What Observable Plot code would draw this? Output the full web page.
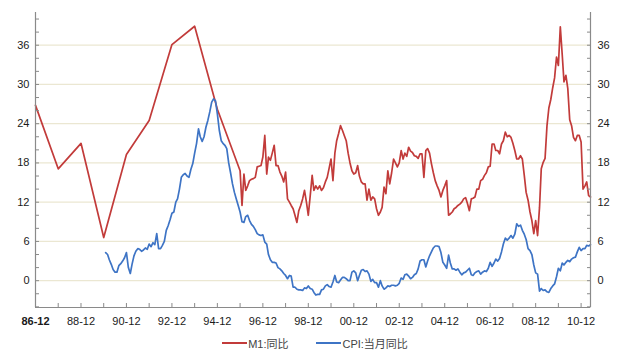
<!DOCTYPE html>
<html><head><meta charset="utf-8">
<script src="https://cdn.jsdelivr.net/npm/d3@7"></script>
<script src="https://cdn.jsdelivr.net/npm/@observablehq/plot@0.6"></script>
<style>
body{margin:0;background:#fff;}
#chart svg{display:block;}
#legend{position:relative;width:630px;height:20px;font-family:"Liberation Sans","Noto Sans CJK SC",sans-serif;font-size:11px;color:#444;display:flex;justify-content:center;align-items:center;}
#legend .item{display:flex;align-items:center;margin:0 14px;}
#legend .sw{display:inline-block;width:25px;height:2px;margin-right:1px;}
#legend .lab{font-family:"Liberation Sans","Noto Sans CJK SC",sans-serif;}
</style></head><body>
<div id="chart"></div>
<div id="legend"></div>
<script>
// ---- data ----
const seriesNames = ["M1:同比", "CPI:当月同比"];
const seriesColors = ["#c23b3a", "#3e74c5"];
// M1 year-end values 1986-12 .. 1995-12
const m1AnnualStart = [1986, 12];
const m1Annual = [26.8, 17.1, 21.0, 6.6, 19.3, 24.5, 36.1, 38.9, 26.2, 16.8];
// M1 monthly 1996-01 .. 2011-05
const m1MonthlyStart = [1996, 1];
const m1Monthly = [
  11.5, 16.3, 13.8, 14.5, 15.3, 15.5, 15.6, 15.8, 17.4, 17.5, 17.6, 18.9,
  22.2, 16.3, 18.9, 18.4, 19.5, 20.7, 17.6, 17.6, 16.6, 16.0, 15.1, 16.6,
  12.5, 12.0, 11.5, 11.0, 10.0, 8.9, 10.7, 11.5, 12.5, 13.8, 12.0, 10.0,
  13.0, 16.1, 13.8, 14.5, 14.0, 14.5, 13.8, 14.2, 15.1, 15.8, 17.2, 18.6,
  15.3, 19.5, 21.4, 22.5, 23.7, 23.0, 22.2, 21.4, 19.5, 18.0, 16.8, 16.3,
  16.5, 17.6, 16.0, 15.1, 14.8, 14.8, 12.3, 14.0, 12.3, 12.8, 12.5, 11.0,
  10.0, 10.5, 11.2, 14.3, 13.3, 16.8, 14.8, 16.5, 18.6, 18.0, 17.4, 18.0,
  19.9, 18.6, 19.5, 19.0, 20.4, 19.8, 19.6, 19.1, 19.0, 18.7, 19.4, 19.4,
  15.8, 19.9, 20.2, 19.5, 17.9, 16.5, 15.3, 14.5, 13.8, 12.8, 13.8, 14.5,
  15.3, 10.0, 10.2, 10.5, 11.0, 11.2, 11.5, 11.7, 12.0, 12.5, 12.7, 11.8,
  10.7, 12.5, 12.6, 12.8, 14.0, 14.0, 15.3, 15.5, 16.1, 16.5, 17.4, 17.5,
  20.9, 20.9, 19.9, 19.9, 19.4, 20.9, 21.4, 22.7, 22.0, 22.2, 21.9, 21.0,
  19.9, 18.6, 18.6, 19.1, 18.6, 16.1, 13.5, 12.3, 10.5, 9.2, 7.2, 9.2,
  6.9, 11.2, 17.1, 18.1, 18.7, 23.7, 26.4, 27.7, 29.5, 31.0, 34.2, 32.9,
  38.8, 34.5, 30.4, 31.4, 29.4, 24.6, 23.7, 21.9, 21.4, 22.2, 22.2, 21.2,
  14.0, 14.5, 15.1, 13.0, 12.8
];
// CPI monthly 1990-01 .. 2011-05
const cpiStart = [1990, 1];
const cpiMonthly = [
  4.3, 4.0, 3.2, 2.5, 1.7, 1.3, 1.3, 2.3, 2.6, 3.0, 3.5, 4.3,
  2.0, 1.1, 2.5, 3.8, 4.5, 4.9, 4.8, 4.5, 4.7, 5.0, 4.8, 5.6,
  5.2, 5.8, 5.5, 7.2, 4.9, 4.9, 5.4, 6.0, 7.7, 8.4, 9.3, 10.3,
  10.5, 12.0, 12.5, 14.0, 15.8, 16.2, 16.4, 16.0, 15.8, 17.0, 17.9, 19.5,
  21.0, 23.2, 22.0, 21.3, 22.0, 23.5, 24.5, 25.8, 27.3, 27.8, 27.5, 25.5,
  23.0, 21.4, 21.0, 20.7, 20.2, 18.0, 16.5, 14.8, 13.5, 12.5, 11.5, 10.5,
  9.0, 8.9, 9.8, 10.0, 9.2, 8.6, 8.3, 7.8, 7.2, 7.0, 6.9, 7.0,
  5.9, 5.6, 4.0, 3.2, 2.8, 2.8, 2.7, 2.0, 1.8, 1.5, 1.1, 0.8,
  0.3, 0.8, 0.7, -1.0, -1.0, -1.3, -1.4, -1.4, -1.5, -1.1, -1.2, -0.8,
  -1.2, -1.3, -1.8, -2.2, -2.1, -2.1, -1.4, -1.3, -0.8, -0.6, -0.9, -1.0,
  -0.2, 0.8, -0.2, -0.3, 0.1, 0.5, 0.5, 0.3, 0.0, 0.0, 1.3, 1.5,
  1.2, 0.0, 0.8, 1.6, 1.7, 1.4, 1.5, 1.0, -0.1, 0.2, -0.3, -0.3,
  -1.0, 0.0, -0.8, -1.3, -1.1, -0.8, -0.9, -0.7, -0.7, -0.8, -0.7, -0.4,
  0.4, 0.2, 0.9, 1.0, 0.7, 0.3, 0.5, 0.9, 1.1, 1.8, 3.0, 3.2,
  3.2, 2.1, 3.0, 3.8, 4.4, 5.0, 5.3, 5.3, 5.2, 4.3, 2.8, 2.4,
  1.9, 3.9, 2.7, 1.8, 1.8, 1.6, 1.8, 1.3, 0.9, 1.2, 1.3, 1.6,
  1.9, 0.9, 0.8, 1.2, 1.4, 1.5, 1.0, 1.3, 1.5, 1.4, 1.9, 2.8,
  2.2, 2.7, 3.3, 3.0, 3.4, 4.4, 5.6, 6.5, 6.2, 6.5, 6.9, 6.5,
  7.1, 8.7, 8.3, 8.5, 7.7, 7.1, 6.3, 4.9, 4.6, 4.0, 2.4, 1.2,
  1.0, -1.6, -1.2, -1.5, -1.4, -1.7, -1.8, -1.2, -0.8, -0.5, 0.6, 1.9,
  1.5, 2.7, 2.4, 2.8, 3.1, 2.9, 3.3, 3.5, 3.6, 4.4, 5.1, 4.6,
  4.9, 4.9, 5.4, 5.3, 5.5
];
const xTickLabels = ["86-12","88-12","90-12","92-12","94-12","96-12","98-12","00-12","02-12","04-12","06-12","08-12","10-12"];
const yTickValues = [0, 6, 12, 18, 24, 30, 36];
const xDomain = [[1986, 12], [2011, 5]];
const yDomain = [-4.1, 41];

// ---- build tables ----
const mdate = (y, m) => new Date(Date.UTC(y, m - 1, 1));
const seq = (start, vals, step) => vals.map((v, i) => ({date: mdate(start[0], start[1] + i * step), value: v}));
const m1Data = [...seq(m1AnnualStart, m1Annual, 12), ...seq(m1MonthlyStart, m1Monthly, 1)];
const cpiData = seq(cpiStart, cpiMonthly, 1);
const xd = xDomain.map(d => mdate(d[0], d[1]));
const labelDates = xTickLabels.map(s => { const yy = +s.slice(0, 2); return mdate(yy > 50 ? 1900 + yy : 2000 + yy, +s.slice(3)); });
const yearTicks = d3.range(0, 25).map(i => mdate(1986 + i, 12));
const yMinor = d3.range(-4, 41, 2);
const labelMap = new Map(labelDates.map((d, i) => [+d, xTickLabels[i]]));

const axisColor = "#8a8a8a";
const textColor = "#1a1a1a";
const chart = Plot.plot({
  width: 630, height: 333,
  marginLeft: 35, marginRight: 40, marginTop: 12, marginBottom: 26,
  style: {fontFamily: "'Liberation Sans', Tahoma, sans-serif", fontSize: "11px", color: textColor, background: "#fff"},
  x: {type: "utc", domain: xd, label: null},
  y: {domain: yDomain, label: null},
  marks: [
    Plot.ruleY(yTickValues, {stroke: "#ebe7d2", strokeWidth: 1.3}),
    Plot.line(m1Data, {x: "date", y: "value", stroke: seriesColors[0], strokeWidth: 1.7}),
    Plot.line(cpiData, {x: "date", y: "value", stroke: seriesColors[1], strokeWidth: 1.7}),
    // axis lines
    Plot.ruleX(xd, {stroke: axisColor, strokeWidth: 1.2}),
    Plot.ruleY([yDomain[0]], {stroke: axisColor, strokeWidth: 1.2}),
    // y ticks
    Plot.axisY(yMinor, {anchor: "left", tickSize: -4, tickFormat: () => "", stroke: axisColor, label: null}),
    Plot.axisY(yMinor, {anchor: "right", tickSize: -4, tickFormat: () => "", stroke: axisColor, label: null}),
    Plot.axisY(yTickValues, {anchor: "left", tickSize: 0, tickPadding: 6, tickFormat: d => d, fill: textColor, label: null}),
    Plot.axisY(yTickValues, {anchor: "right", tickSize: 0, tickPadding: 7, tickFormat: d => d, fill: textColor, label: null}),
    // x ticks
    Plot.axisX(yearTicks, {anchor: "bottom", tickSize: -4, tickFormat: () => "", stroke: axisColor, label: null}),
    Plot.axisX(labelDates.slice(1), {anchor: "bottom", tickSize: 0, tickPadding: 10, tickFormat: d => labelMap.get(+d), fill: textColor, label: null}),
    Plot.axisX(labelDates.slice(0, 1), {anchor: "bottom", tickSize: 0, tickPadding: 10, tickFormat: d => labelMap.get(+d), fill: textColor, fontWeight: "bold", label: null}),
  ]
});
document.getElementById("chart").appendChild(chart);

const lg = document.getElementById("legend");
seriesNames.forEach((n, i) => {
  const it = document.createElement("div"); it.className = "item";
  const sw = document.createElement("span"); sw.className = "sw"; sw.style.background = seriesColors[i];
  const lb = document.createElement("span"); lb.className = "lab"; lb.textContent = n;
  it.appendChild(sw); it.appendChild(lb); lg.appendChild(it);
});
</script>
</body></html>
